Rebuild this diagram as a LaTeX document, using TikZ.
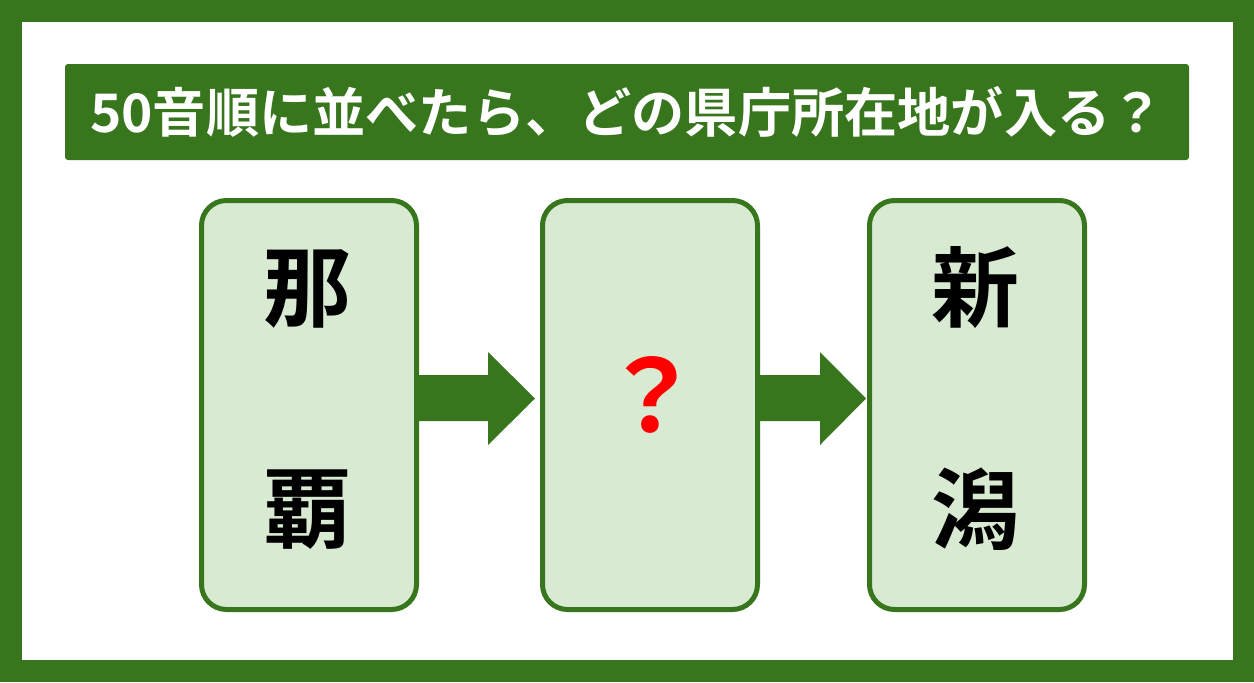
\documentclass[tikz,border=0pt]{standalone}
\usepackage{fontspec}
\newfontfamily\cjk[BoldFont={Noto Sans CJK JP Bold}]{Noto Sans CJK JP}
\usetikzlibrary{calc}
\definecolor{grn}{HTML}{38761D}
\definecolor{lgrn}{HTML}{D9EAD3}

\begin{document}
\begin{tikzpicture}[x=0.5pt,y=-0.5pt,
  card/.style={draw=grn,line width=2.5pt,fill=lgrn,rounded corners=12.5pt,
    minimum width=107.5pt,minimum height=204.5pt},
  big/.style={font=\cjk\bfseries\fontsize{44}{44}\selectfont}]

\fill[grn] (0,0) rectangle (1254,682);
\fill[white] (22,22) rectangle (1233,660);

\node[fill=grn,rounded corners=1.5pt,minimum width=562pt,minimum height=48pt,
  text=white,font=\cjk\bfseries\fontsize{26.6}{26.6}\selectfont] (title) at (627,112)
  {50音順に並べたら、どの県庁所在地が入る？};

\path (309,405) coordinate (c1) (650,405) coordinate (c2) (977,405) coordinate (c3);

\fill[grn] (416,375) -- (488,375) -- (488,352) -- (535,398.5)
  -- (488,445) -- (488,421) -- (416,421) -- cycle;
\fill[grn] (757,375) -- (820,375) -- (820,352) -- (866,398.5)
  -- (820,445) -- (820,421) -- (757,421) -- cycle;

\node[card] (b1) at (c1) {};
\node[card] (b2) at (c2) {};
\node[card] (b3) at (c3) {};

\node[big] (na) at (307,289) {那};
\node[big] (ha) at (307,510) {覇};
\node[big,text=red,font=\cjk\bfseries\fontsize{50}{50}\selectfont] (q) at (651,395) {？};
\node[big] (shin) at (975,288) {新};
\node[big] (gata) at (975,509) {潟};

\end{tikzpicture}
\end{document}
